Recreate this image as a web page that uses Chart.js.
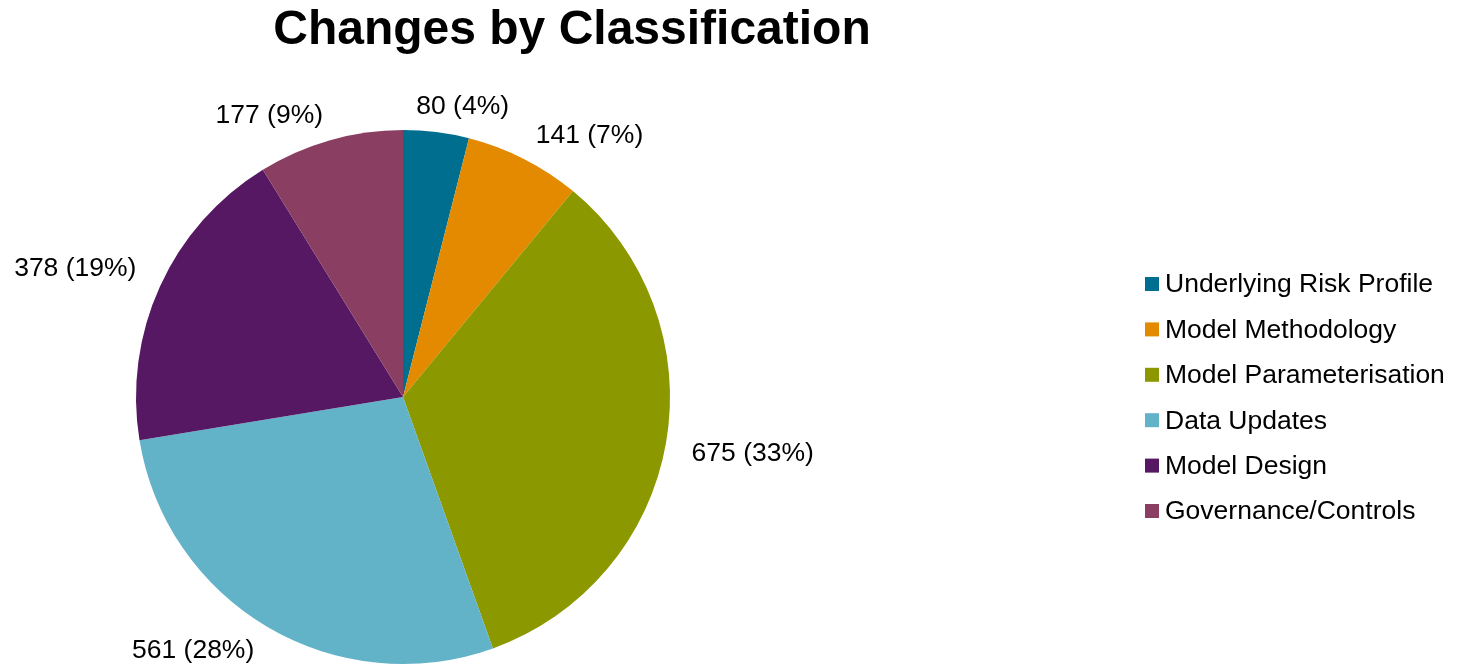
<!DOCTYPE html>
<html>
<head>
<meta charset="utf-8">
<script src="https://cdn.jsdelivr.net/npm/chart.js@4/dist/chart.umd.min.js"></script>
<style>
  html, body { margin: 0; padding: 0; background: #fff; }
  #wrap { width: 1462px; height: 669px; }
</style>
</head>
<body>
<div id="wrap"><canvas id="pieChart" width="1462" height="669"></canvas></div>
<script>
const titleText = 'Changes by Classification';
const categories = ['Underlying Risk Profile', 'Model Methodology', 'Model Parameterisation', 'Data Updates', 'Model Design', 'Governance/Controls'];
const counts = [80, 141, 675, 561, 378, 177];
const percents = [4, 7, 33, 28, 19, 9];
const colors = ['#006f8f', '#e38a00', '#8c9800', '#62b2c8', '#561862', '#8a3f62'];

const FONT = '"Liberation Sans", Arial, sans-serif';

// title, outside labels and legend are drawn here so the pie can sit left of centre
const extras = {
    id: 'extras',
    afterDraw(chart) {
        const ctx = chart.ctx;
        ctx.save();
        ctx.fillStyle = '#000';
        ctx.font = 'bold 48px ' + FONT;
        ctx.textAlign = 'center';
        ctx.textBaseline = 'middle';
        ctx.fillText(titleText, 572, 31);

        // data labels, "outside end" style
        ctx.font = '26.5px ' + FONT;
        const arcs = chart.getDatasetMeta(0).data;
        arcs.forEach((arc, i) => {
            const p = arc.getProps(['x', 'y', 'startAngle', 'endAngle', 'outerRadius'], true);
            const mid = (p.startAngle + p.endAngle) / 2;
            const dx = Math.cos(mid), dy = Math.sin(mid);
            const r = p.outerRadius + 12;
            const txt = counts[i] + ' (' + percents[i] + '%)';
            const w = ctx.measureText(txt).width, h = 26;
            const k = v => Math.max(-1, Math.min(1, v * 4));
            const cx = p.x + dx * r + k(dx) * w / 2 + dx * 14;
            const cy = p.y + dy * r + k(dy) * h / 2;
            ctx.fillText(txt, cx, cy);
        });

        // legend
        ctx.textAlign = 'left';
        categories.forEach((c, i) => {
            const y = 284 + i * 45.4;
            ctx.fillStyle = colors[i];
            ctx.fillRect(1145, y - 7, 14, 14);
            ctx.fillStyle = '#000';
            ctx.fillText(c, 1165, y + 1);
        });
        ctx.restore();
    }
};

new Chart(document.getElementById('pieChart').getContext('2d'), {
    type: 'pie',
    data: {
        labels: categories,
        datasets: [{ data: counts, backgroundColor: colors, borderWidth: 0 }]
    },
    options: {
        responsive: false,
        animation: false,
        layout: { padding: { left: 0, right: 656, top: 130, bottom: 5 } },
        plugins: { legend: { display: false }, title: { display: false }, tooltip: { enabled: false } }
    },
    plugins: [extras]
});
</script>
</body>
</html>
